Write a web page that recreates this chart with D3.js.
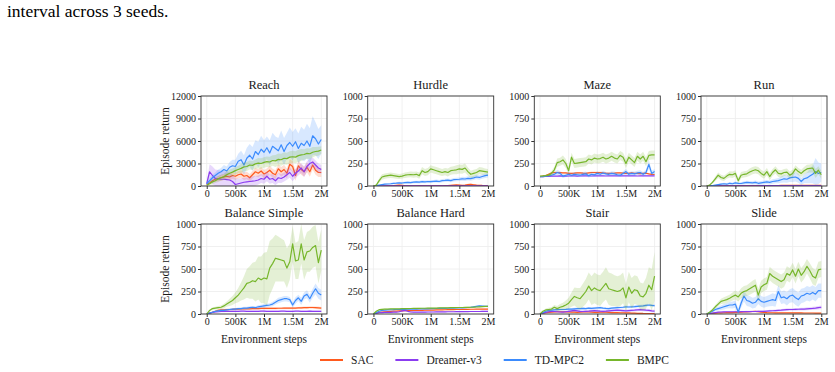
<!DOCTYPE html>
<html>
<head>
<meta charset="utf-8">
<script src="https://cdn.jsdelivr.net/npm/d3@7"></script>
<style>
  body { margin: 0; background: #fff; }
  svg { display: block; }
</style>
</head>
<body>
<svg id="chart" width="835" height="372"></svg>
<script>
var serif = "'Liberation Serif', 'Times New Roman', Times, serif";

// environment steps (in thousands), one value every 50K
var stepsK = [0,50,100,150,200,250,300,350,400,450,500,550,600,650,700,750,800,850,900,950,
  1000,1050,1100,1150,1200,1250,1300,1350,1400,1450,1500,1550,1600,1650,1700,1750,1800,1850,1900,1950,2000];

var methods = ["SAC", "Dreamer-v3", "TD-MPC2", "BMPC"];
var colors = ["#ff5a1e", "#8b3cf0", "#3b8bfd", "#76b62b"];

var xTicks = [0, 500000, 1000000, 1500000, 2000000];
var xTickLabels = ["0", "500K", "1M", "1.5M", "2M"];
var yTicksReach = [0, 3000, 6000, 9000, 12000];
var yTicksScore = [0, 250, 500, 750, 1000];

// ---- Reach ----
var reachMean = {
  "SAC": [200,400,700,900,1000,1100,1200,1300,1200,1400,1300,1500,1600,1300,1400,1100,1500,1900,1700,2000,1600,1800,2100,1700,1500,2300,1900,2200,1700,2900,2600,1400,2700,2200,1900,2500,1900,2800,2100,1800,1800],
  "Dreamer-v3": [300,1900,1400,1000,950,900,900,850,800,600,200,300,400,500,550,600,650,700,800,1000,900,1300,900,1000,700,1100,1000,1200,1500,1800,1300,1700,2000,2400,1900,2600,3000,3200,2800,2400,2200],
  "TD-MPC2": [300,700,1100,1400,1700,1900,2200,2000,2500,2700,2600,3300,3500,2800,3700,4100,3600,4600,4200,4900,4500,5100,4400,5300,5000,4700,5500,4600,5400,5800,5300,5900,5000,5700,5400,6000,5300,6700,6300,5600,6200],
  "BMPC": [100,300,550,700,950,1100,1250,1500,1700,1850,2050,2200,2350,2550,2600,2800,2750,2950,3050,3000,3150,3250,3200,3400,3350,3550,3500,3700,3650,3850,3900,3850,4050,4150,4200,4350,4300,4500,4600,4650,4800]
};
var reachSpread = {
  "SAC": [100,150,250,300,350,400,400,400,450,450,450,500,500,500,500,500,500,550,550,550,550,550,600,600,600,600,650,650,650,700,700,700,700,700,650,650,650,600,600,600,600],
  "Dreamer-v3": [300,1000,1200,1200,1200,1150,1100,1100,1000,900,800,700,650,600,600,600,650,650,600,600,600,650,600,600,600,650,600,600,650,700,650,600,600,650,700,700,650,600,600,600,600],
  "TD-MPC2": [200,300,400,400,500,500,600,600,700,800,900,1000,1200,1300,1400,1500,1600,1500,1700,1800,1600,1500,1700,1800,1600,1700,1900,1800,1700,2000,1900,1800,2000,2200,2100,2300,2400,2600,2200,2000,1900],
  "BMPC": [100,200,300,300,400,400,400,500,500,500,500,500,600,600,600,600,600,600,700,700,700,700,700,700,800,800,800,800,800,800,800,800,800,800,700,700,700,700,600,600,500]
};

// ---- Hurdle ----
var hurdleMean = {
  "SAC": [0,0,0,0,0,2,3,5,8,10,8,5,3,2,2,3,4,3,2,2,3,4,5,4,3,4,5,8,10,12,10,8,10,15,18,14,10,8,6,5,4],
  "Dreamer-v3": [0,1,1,2,2,2,2,3,3,3,3,3,3,3,3,3,3,3,3,3,3,3,3,3,3,3,3,3,3,3,3,3,3,3,3,3,3,3,3,3,3],
  "TD-MPC2": [0,5,10,15,20,22,25,30,32,35,33,38,40,38,42,45,43,48,45,50,48,52,55,50,60,62,65,60,70,72,75,80,78,85,82,90,100,95,105,115,120],
  "BMPC": [0,10,60,100,110,115,120,115,110,105,110,120,125,128,125,130,115,170,150,160,190,180,170,160,150,160,150,170,175,180,190,185,200,160,130,140,150,170,165,160,155]
};
var hurdleSpread = {
  "SAC": [0,0,0,1,1,2,3,4,5,6,5,4,3,2,2,3,3,3,2,2,3,3,4,4,3,4,5,6,7,8,7,6,7,9,10,8,6,5,4,4,3],
  "Dreamer-v3": [0,1,1,1,1,1,1,2,2,2,2,2,2,2,2,2,2,2,2,2,2,2,2,2,2,2,2,2,2,2,2,2,2,2,2,2,2,2,2,2,2],
  "TD-MPC2": [0,3,5,6,8,8,10,10,10,12,12,12,12,14,14,14,14,15,15,15,15,16,16,16,18,18,18,18,20,20,20,22,22,22,24,24,25,25,25,25,25],
  "BMPC": [0,8,25,30,30,30,30,30,30,28,28,30,30,32,32,32,35,40,40,40,40,40,40,40,40,40,45,45,45,50,50,50,50,45,40,40,40,40,40,35,35]
};

// ---- Maze ----
var mazeMean = {
  "SAC": [105,110,115,130,145,150,150,148,145,145,140,140,142,145,145,142,140,145,150,150,148,150,145,142,140,140,142,145,145,143,140,140,145,140,140,138,140,142,135,130,128],
  "Dreamer-v3": [105,105,106,108,110,110,110,112,110,110,111,112,112,110,111,112,113,112,111,112,112,113,112,111,112,113,112,112,113,112,112,113,112,112,111,112,112,113,112,112,112],
  "TD-MPC2": [105,105,110,115,120,130,150,140,110,120,130,120,130,125,120,130,135,115,130,125,140,130,145,135,130,140,135,125,120,140,160,130,140,135,145,150,130,150,240,140,160],
  "BMPC": [110,112,115,120,140,180,260,270,290,250,170,320,250,255,260,265,270,300,290,310,300,305,320,300,310,330,310,300,340,320,250,320,290,260,330,300,330,270,340,345,345]
};
var mazeSpread = {
  "SAC": [5,5,6,8,10,10,10,11,10,10,10,11,10,10,10,10,11,10,10,10,10,10,11,10,10,10,10,10,11,10,10,10,10,10,11,10,10,10,10,10,10],
  "Dreamer-v3": [3,3,3,4,4,4,4,4,4,4,4,4,4,4,4,4,4,4,4,4,4,4,4,4,4,4,4,4,4,4,4,4,4,4,4,4,4,4,4,4,4],
  "TD-MPC2": [3,5,8,10,15,20,30,25,20,20,25,20,25,20,20,25,25,20,25,20,25,20,25,20,20,25,25,20,20,25,30,25,25,25,25,25,25,30,50,30,30],
  "BMPC": [5,8,10,15,25,35,45,45,50,50,40,50,50,50,50,50,50,50,50,50,50,50,50,50,50,50,50,50,50,50,50,50,50,50,50,50,50,50,50,50,50]
};

// ---- Run ----
var runMean = {
  "SAC": [0,1,1,2,2,2,3,3,3,3,3,4,4,4,4,4,5,5,5,5,5,5,5,5,5,5,6,6,6,6,6,6,6,6,6,7,7,7,7,7,7],
  "Dreamer-v3": [0,1,1,1,2,2,2,2,2,2,3,3,3,3,3,3,3,3,3,4,4,4,4,4,4,4,4,4,4,5,5,5,5,5,5,5,5,5,5,5,5],
  "TD-MPC2": [0,2,5,10,15,20,25,20,30,25,35,30,28,35,40,38,35,40,30,35,40,45,40,50,55,60,70,80,75,90,95,100,85,50,80,90,110,130,160,140,150],
  "BMPC": [0,10,40,80,120,95,85,110,130,125,140,60,120,130,135,155,170,180,170,140,120,160,105,150,180,140,135,150,155,120,140,190,160,140,170,190,195,200,140,175,125]
};
var runSpread = {
  "SAC": [0,1,1,1,1,1,2,2,2,2,2,2,2,2,2,2,2,2,2,2,2,2,2,2,2,2,3,3,3,3,3,3,3,3,3,3,3,3,3,3,3],
  "Dreamer-v3": [0,1,1,1,1,1,1,1,1,1,2,2,2,2,2,2,2,2,2,2,2,2,2,2,2,2,2,2,2,2,2,2,2,2,2,2,2,2,2,2,2],
  "TD-MPC2": [0,2,4,6,8,10,12,12,15,15,15,15,15,18,18,18,18,20,20,20,20,22,22,25,25,30,35,40,40,45,50,50,50,40,50,60,80,100,150,120,100],
  "BMPC": [0,8,15,25,30,30,30,30,35,35,35,35,35,35,35,40,40,40,40,40,40,40,40,40,40,40,40,40,40,40,40,40,40,40,40,45,45,50,50,45,45]
};

// ---- Balance Simple ----
var balanceSimpleMean = {
  "SAC": [0,10,20,30,40,45,45,48,50,52,55,55,56,57,58,58,60,60,60,62,62,62,63,63,63,64,64,65,65,65,66,66,67,68,70,70,72,72,70,68,65],
  "Dreamer-v3": [0,10,18,22,25,28,28,30,30,30,30,30,32,32,30,30,30,30,30,32,32,30,30,30,30,30,32,32,30,30,30,32,32,30,30,30,32,30,30,30,30],
  "TD-MPC2": [0,10,20,30,35,40,40,45,50,55,55,60,60,65,65,70,75,70,80,85,90,95,100,110,130,150,160,170,170,160,100,150,180,140,200,220,170,230,280,230,210],
  "BMPC": [0,40,60,65,70,75,90,110,130,150,180,210,250,290,340,350,370,360,400,380,400,390,510,560,620,610,600,590,510,580,780,590,600,780,600,690,700,740,760,570,710]
};
var balanceSimpleSpread = {
  "SAC": [0,5,8,10,12,12,12,12,12,12,12,12,12,12,12,12,12,12,12,12,12,12,12,12,12,12,12,12,12,12,12,12,12,12,12,14,14,14,14,14,14],
  "Dreamer-v3": [0,5,8,8,8,8,8,8,8,8,8,8,8,8,8,8,8,8,8,8,8,8,8,8,8,8,8,8,8,8,8,8,8,8,8,8,8,8,8,8,8],
  "TD-MPC2": [0,5,5,8,8,10,10,10,10,12,12,12,15,15,15,15,15,15,18,18,20,20,20,25,25,30,30,30,30,30,30,35,35,40,40,45,45,50,60,60,60],
  "BMPC": [0,10,15,15,20,20,25,30,40,50,60,80,100,130,160,180,200,220,240,260,280,300,300,280,260,250,240,230,220,200,200,200,210,220,220,220,230,230,230,230,230]
};

// ---- Balance Hard ----
var balanceHardMean = {
  "SAC": [0,10,18,22,25,28,30,32,33,34,35,36,37,38,39,40,40,41,42,43,44,44,45,46,46,47,48,48,49,50,50,51,52,52,53,53,54,54,55,55,55],
  "Dreamer-v3": [0,8,14,16,18,18,18,20,20,25,35,40,30,22,20,20,20,21,21,22,22,22,23,23,24,24,25,25,25,26,26,26,27,27,28,28,28,28,29,29,30],
  "TD-MPC2": [0,15,30,40,42,45,47,48,50,50,52,52,53,54,55,55,56,57,58,58,60,60,61,62,62,63,64,65,66,67,68,68,70,72,75,80,85,90,88,85,85],
  "BMPC": [0,30,48,52,54,55,56,57,58,58,59,60,60,61,62,62,63,64,64,65,65,66,66,67,68,68,69,70,70,71,72,72,73,74,75,76,78,80,82,84,85]
};
var balanceHardSpread = {
  "SAC": [0,4,5,5,5,5,5,5,5,5,5,5,5,5,5,5,5,5,5,5,5,5,5,5,5,5,5,5,5,5,5,5,5,5,5,5,5,5,5,5,5],
  "Dreamer-v3": [0,4,5,6,6,6,6,6,6,8,10,10,8,6,6,6,6,6,6,6,6,6,6,6,6,6,6,6,6,6,6,6,6,6,6,6,6,6,6,6,6],
  "TD-MPC2": [0,5,6,6,6,6,6,6,6,6,6,6,6,6,6,6,6,6,6,6,6,6,6,6,6,6,6,6,6,6,6,6,8,8,8,8,10,10,10,10,10],
  "BMPC": [0,6,6,6,6,6,6,6,6,6,6,6,6,6,6,6,6,6,6,6,6,6,6,6,6,6,6,6,6,6,6,6,6,6,6,6,6,6,6,6,6]
};

// ---- Stair ----
var stairMean = {
  "SAC": [0,10,15,18,20,22,25,25,25,24,22,20,20,18,20,22,25,22,20,18,18,20,22,20,18,16,15,15,14,14,12,12,10,10,8,8,6,5,5,5,5],
  "Dreamer-v3": [0,10,18,25,30,28,25,22,20,25,30,35,40,35,30,28,30,32,35,38,35,32,30,32,35,38,40,42,40,38,35,38,40,42,45,48,45,42,40,35,32],
  "TD-MPC2": [0,15,30,40,42,45,48,50,50,52,55,55,58,60,60,62,60,65,62,65,68,70,65,62,60,65,68,70,72,75,80,78,80,82,85,88,90,95,100,95,92],
  "BMPC": [0,30,45,50,55,75,60,75,85,100,120,160,195,180,170,210,250,310,260,290,270,260,300,340,280,270,260,250,260,290,180,300,230,270,260,200,190,230,320,270,420]
};
var stairSpread = {
  "SAC": [0,5,8,10,10,10,10,10,10,10,10,10,10,10,10,10,10,10,10,10,10,10,10,10,10,10,10,10,10,10,8,8,8,8,6,6,5,5,5,5,5],
  "Dreamer-v3": [0,5,8,10,12,12,12,12,12,12,12,12,15,15,15,15,15,15,15,15,15,15,15,15,15,15,15,15,15,15,15,15,15,15,15,15,15,15,15,15,15],
  "TD-MPC2": [0,5,8,10,10,10,10,10,10,10,12,12,12,12,12,12,12,12,12,12,12,12,12,12,12,12,12,12,12,14,14,14,14,14,14,14,15,15,15,15,15],
  "BMPC": [0,10,15,20,20,25,30,35,40,50,60,80,100,110,120,130,140,150,160,170,170,170,170,180,180,180,170,170,170,170,150,170,170,160,160,150,150,170,200,230,270]
};

// ---- Slide ----
var slideMean = {
  "SAC": [0,5,8,10,12,12,14,15,15,16,18,18,20,22,24,25,28,30,25,20,18,15,14,14,13,12,12,12,12,12,12,12,12,12,11,11,11,11,10,10,10],
  "Dreamer-v3": [0,5,10,15,20,22,24,25,25,25,25,25,26,26,27,27,28,28,30,30,30,32,34,36,38,40,42,45,48,50,50,52,53,55,55,58,60,62,65,70,75],
  "TD-MPC2": [0,15,30,50,60,70,80,90,100,100,110,20,120,200,150,140,120,130,170,140,130,140,150,160,150,250,180,190,170,200,210,180,160,200,210,230,220,240,220,260,260],
  "BMPC": [0,20,45,80,110,140,150,160,175,195,210,190,230,250,260,280,300,320,210,300,325,340,450,420,400,380,360,380,450,430,490,420,500,430,470,530,480,420,400,490,500]
};
var slideSpread = {
  "SAC": [0,3,4,5,5,5,6,6,6,6,6,6,6,8,8,8,10,10,10,8,6,6,5,5,5,5,5,5,5,5,5,5,5,5,5,5,5,5,5,5,5],
  "Dreamer-v3": [0,3,5,6,8,8,8,8,8,8,8,8,8,8,8,8,8,8,10,10,10,10,12,12,12,12,14,14,15,15,15,15,15,15,15,16,16,18,18,20,20],
  "TD-MPC2": [0,10,15,20,20,25,30,30,35,40,40,40,50,60,60,60,60,60,60,60,60,60,65,70,70,70,70,70,75,75,80,80,80,80,80,80,80,80,80,80,80],
  "BMPC": [0,10,15,20,25,30,35,40,40,45,50,50,55,60,60,65,70,70,70,70,70,70,75,75,75,75,80,80,80,80,80,80,80,80,80,80,85,90,90,90,90]
};

var panels = [
  {title: "Reach", mean: reachMean, spread: reachSpread, ymax: 12000, yticks: yTicksReach},
  {title: "Hurdle", mean: hurdleMean, spread: hurdleSpread, ymax: 1000, yticks: yTicksScore},
  {title: "Maze", mean: mazeMean, spread: mazeSpread, ymax: 1000, yticks: yTicksScore},
  {title: "Run", mean: runMean, spread: runSpread, ymax: 1000, yticks: yTicksScore},
  {title: "Balance Simple", mean: balanceSimpleMean, spread: balanceSimpleSpread, ymax: 1000, yticks: yTicksScore},
  {title: "Balance Hard", mean: balanceHardMean, spread: balanceHardSpread, ymax: 1000, yticks: yTicksScore},
  {title: "Stair", mean: stairMean, spread: stairSpread, ymax: 1000, yticks: yTicksScore},
  {title: "Slide", mean: slideMean, spread: slideSpread, ymax: 1000, yticks: yTicksScore}
];

var svg = d3.select("#chart");

function label(sel, size) {
  return sel.style("font-family", serif).style("font-size", size + "px").style("fill", "#1a1a1a");
}

// caption fragment at the top
label(svg.append("text"), 17.5)
  .attr("x", 7).attr("y", 17)
  .style("fill", "#000")
  .text("interval across 3 seeds.");

var colLeft = [201, 367.7, 534.3, 701];
var rowTop = [96, 224];
var plotW = 126, plotH = 90;

panels.forEach(function (p, k) {
  var col = k % 4, row = Math.floor(k / 4);
  var left = colLeft[col], top = rowTop[row];

  var x = d3.scaleLinear().domain([-100000, 2100000]).range([left, left + plotW]);
  var y = d3.scaleLinear().domain([0, p.ymax]).range([top + plotH, top]);

  var g = svg.append("g");

  g.append("clipPath").attr("id", "clip" + k)
    .append("rect")
    .attr("x", left).attr("y", top)
    .attr("width", plotW).attr("height", plotH);

  // grid
  g.selectAll(".gx").data(xTicks).enter().append("line")
    .attr("x1", function (d) { return x(d); })
    .attr("x2", function (d) { return x(d); })
    .attr("y1", top).attr("y2", top + plotH)
    .attr("stroke", "#ececec").attr("stroke-width", 0.8);
  g.selectAll(".gy").data(p.yticks).enter().append("line")
    .attr("y1", function (d) { return y(d); })
    .attr("y2", function (d) { return y(d); })
    .attr("x1", left).attr("x2", left + plotW)
    .attr("stroke", "#ececec").attr("stroke-width", 0.8);

  var plot = g.append("g").attr("clip-path", "url(#clip" + k + ")");

  methods.forEach(function (m, j) {
    var pts = stepsK.map(function (s, i) {
      return {t: s * 1000, v: p.mean[m][i], s: p.spread[m][i]};
    });
    var area = d3.area()
      .x(function (d) { return x(d.t); })
      .y0(function (d) { return y(Math.max(0, d.v - d.s)); })
      .y1(function (d) { return y(d.v + d.s); });
    var line = d3.line()
      .x(function (d) { return x(d.t); })
      .y(function (d) { return y(d.v); });

    plot.append("path")
      .attr("d", area(pts))
      .attr("fill", colors[j])
      .attr("fill-opacity", 0.2)
      .attr("stroke", "none");
    plot.append("path")
      .attr("d", line(pts))
      .attr("fill", "none")
      .attr("stroke", colors[j])
      .attr("stroke-width", 1.2)
      .attr("stroke-linejoin", "round");
  });

  // frame
  g.append("rect")
    .attr("x", left).attr("y", top)
    .attr("width", plotW).attr("height", plotH)
    .attr("fill", "none")
    .attr("stroke", "#333")
    .attr("stroke-width", 0.9);

  // axes
  var xAxis = d3.axisBottom(x)
    .tickValues(xTicks)
    .tickFormat(function (d, i) { return xTickLabels[i]; })
    .tickSize(3).tickPadding(1);
  var xg = g.append("g")
    .attr("transform", "translate(0," + (top + plotH) + ")")
    .call(xAxis);
  xg.select(".domain").remove();

  var yAxis = d3.axisLeft(y)
    .tickValues(p.yticks)
    .tickFormat(d3.format("d"))
    .tickSize(3).tickPadding(2);
  var yg = g.append("g")
    .attr("transform", "translate(" + left + ",0)")
    .call(yAxis);
  yg.select(".domain").remove();

  [xg, yg].forEach(function (a) {
    a.selectAll("line").attr("stroke", "#333");
    label(a.selectAll("text"), 10);
  });

  // title
  label(g.append("text"), 12.5)
    .attr("x", left + plotW / 2).attr("y", top - 7)
    .attr("text-anchor", "middle")
    .text(p.title);

  if (col === 0) {
    label(g.append("text"), 11.5)
      .attr("transform", "translate(169," + (top + plotH / 2) + ") rotate(-90)")
      .attr("text-anchor", "middle")
      .text("Episode return");
  }
  if (row === 1) {
    label(g.append("text"), 11.5)
      .attr("x", left + plotW / 2).attr("y", top + plotH + 29)
      .attr("text-anchor", "middle")
      .text("Environment steps");
  }
});

// legend
var lx = 320, ly = 360;
methods.forEach(function (m, j) {
  svg.append("line")
    .attr("x1", lx).attr("x2", lx + 23)
    .attr("y1", ly).attr("y2", ly)
    .attr("stroke", colors[j]).attr("stroke-width", 2);
  var t = label(svg.append("text"), 11.5)
    .attr("x", lx + 31).attr("y", ly + 4)
    .text(m);
  lx = lx + 31 + t.node().getComputedTextLength() + 22;
});
</script>
</body>
</html>
